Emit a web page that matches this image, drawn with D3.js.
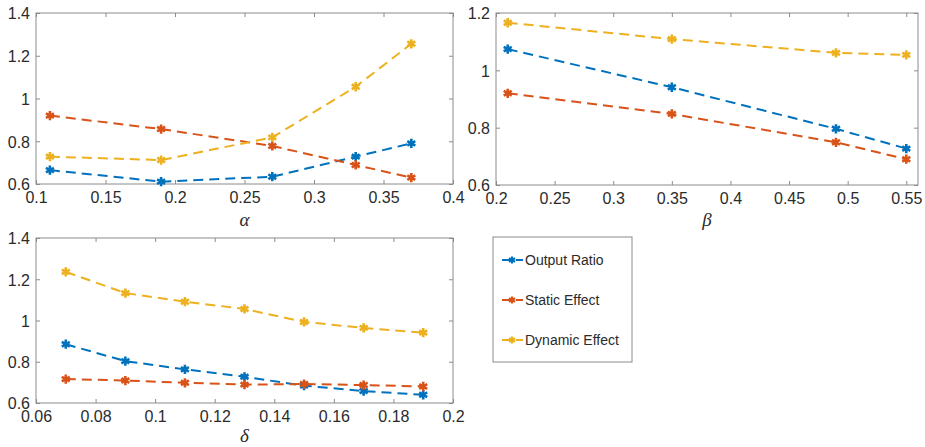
<!DOCTYPE html>
<html>
<head>
<meta charset="utf-8">
<script src="https://cdn.jsdelivr.net/npm/d3@7"></script>
<style>
  body { margin: 0; background: #fff; }
  svg { display: block; }
</style>
</head>
<body>
<div id="wrapper"></div>
<script>
// series names + colours (MATLAB default order)
const seriesNames = ["Output Ratio", "Static Effect", "Dynamic Effect"]
const seriesColors = ["#0072BD", "#D95319", "#EDB120"]

// panel alpha
const alphaX = [0.11, 0.19, 0.27, 0.33, 0.37]
const alphaOutput = [0.665, 0.611, 0.634, 0.728, 0.790]
const alphaStatic = [0.920, 0.857, 0.778, 0.689, 0.630]
const alphaDynamic = [0.728, 0.712, 0.818, 1.055, 1.256]
const alphaXDomain = [0.1, 0.4]
const alphaXTicks = [0.1, 0.15, 0.2, 0.25, 0.3, 0.35, 0.4]
const alphaYTicks = [0.6, 0.8, 1, 1.2, 1.4]

// panel beta
const betaX = [0.21, 0.35, 0.49, 0.55]
const betaOutput = [1.074, 0.941, 0.796, 0.727]
const betaStatic = [0.920, 0.848, 0.749, 0.690]
const betaDynamic = [1.166, 1.109, 1.061, 1.054]
const betaXDomain = [0.2, 0.56]
const betaXTicks = [0.2, 0.25, 0.3, 0.35, 0.4, 0.45, 0.5, 0.55]
const betaYTicks = [0.6, 0.8, 1, 1.2]

// panel delta
const deltaX = [0.07, 0.09, 0.11, 0.13, 0.15, 0.17, 0.19]
const deltaOutput = [0.885, 0.803, 0.763, 0.727, 0.684, 0.658, 0.640]
const deltaStatic = [0.716, 0.709, 0.698, 0.689, 0.692, 0.687, 0.680]
const deltaDynamic = [1.236, 1.133, 1.091, 1.056, 0.993, 0.964, 0.941]
const deltaXDomain = [0.06, 0.2]
const deltaXTicks = [0.06, 0.08, 0.1, 0.12, 0.14, 0.16, 0.18, 0.2]
const deltaYTicks = [0.6, 0.8, 1, 1.2, 1.4]

const W = 925, H = 447
const axisColor = "#8c8c8c"
const textColor = "#2b2b2b"
const fmt = d3.format("~g")
const marker = d3.symbol().type(d3.symbolAsterisk).size(60)

const svg = d3.select("#wrapper")
    .append("svg")
    .attr("width", W)
    .attr("height", H)

function drawPanel(p) {
    const xScale = d3.scaleLinear()
        .domain(p.xDomain)
        .range([p.left, p.right])
    const yScale = d3.scaleLinear()
        .domain(d3.extent(p.yTicks))
        .range([p.bottom, p.top])

    const g = svg.append("g")

    //! axes (MATLAB style: ticks pointing inward on all four sides)
    const bottom = g.append("g")
        .attr("transform", `translate(0,${p.bottom})`)
        .call(d3.axisBottom(xScale).tickValues(p.xTicks).tickFormat(fmt)
            .tickSizeInner(-4).tickSizeOuter(0).tickPadding(8))
    const top = g.append("g")
        .attr("transform", `translate(0,${p.top})`)
        .call(d3.axisTop(xScale).tickValues(p.xTicks).tickFormat("")
            .tickSizeInner(-4).tickSizeOuter(0))
    const left = g.append("g")
        .attr("transform", `translate(${p.left},0)`)
        .call(d3.axisLeft(yScale).tickValues(p.yTicks).tickFormat(fmt)
            .tickSizeInner(-4).tickSizeOuter(0).tickPadding(6))
    const right = g.append("g")
        .attr("transform", `translate(${p.right},0)`)
        .call(d3.axisRight(yScale).tickValues(p.yTicks).tickFormat("")
            .tickSizeInner(-4).tickSizeOuter(0))

    for (const a of [bottom, top, left, right]) {
        a.select(".domain").remove()
        a.selectAll(".tick line").attr("stroke", axisColor)
        a.selectAll("text")
            .attr("fill", textColor)
            .style("font-family", "'Liberation Sans', Arial, sans-serif")
            .style("font-size", "16px")
    }
    left.selectAll("text").attr("dy", "0.36em")

    g.append("rect")
        .attr("x", p.left)
        .attr("y", p.top)
        .attr("width", p.right - p.left)
        .attr("height", p.bottom - p.top)
        .attr("fill", "none")
        .attr("stroke", axisColor)
        .attr("stroke-width", 1)

    // axis label (greek letter)
    g.append("text")
        .attr("x", (p.left + p.right) / 2)
        .attr("y", p.labelY)
        .attr("text-anchor", "middle")
        .attr("fill", textColor)
        .style("font-family", "'Liberation Serif', 'DejaVu Serif', serif")
        .style("font-style", "italic")
        .style("font-size", "19px")
        .text(p.label)

    //! lines + markers
    const line = d3.line()
        .x(d => xScale(d[0]))
        .y(d => yScale(d[1]))

    p.series.forEach((vals, i) => {
        const pts = p.x.map((x, j) => [x, vals[j]])
        g.append("path")
            .datum(pts)
            .attr("d", line)
            .attr("fill", "none")
            .attr("stroke", seriesColors[i])
            .attr("stroke-width", 2)
            .attr("stroke-dasharray", "10,6")
        g.selectAll(".m" + i)
            .data(pts)
            .join("path")
            .attr("class", "m" + i)
            .attr("d", marker)
            .attr("transform", d => `translate(${xScale(d[0])},${yScale(d[1])})`)
            .attr("fill", "none")
            .attr("stroke", seriesColors[i])
            .attr("stroke-width", 2.6)
    })
}

drawPanel({
    left: 36, right: 453, top: 13, bottom: 184,
    x: alphaX, series: [alphaOutput, alphaStatic, alphaDynamic],
    xDomain: alphaXDomain, xTicks: alphaXTicks, yTicks: alphaYTicks,
    label: "α", labelY: 226
})
drawPanel({
    left: 496, right: 918, top: 13, bottom: 185,
    x: betaX, series: [betaOutput, betaStatic, betaDynamic],
    xDomain: betaXDomain, xTicks: betaXTicks, yTicks: betaYTicks,
    label: "β", labelY: 226
})
drawPanel({
    left: 36, right: 453, top: 238, bottom: 403,
    x: deltaX, series: [deltaOutput, deltaStatic, deltaDynamic],
    xDomain: deltaXDomain, xTicks: deltaXTicks, yTicks: deltaYTicks,
    label: "δ", labelY: 442
})

//! legend
const legend = svg.append("g")
legend.append("rect")
    .attr("x", 493)
    .attr("y", 237)
    .attr("width", 139)
    .attr("height", 125)
    .attr("fill", "#fff")
    .attr("stroke", axisColor)
    .attr("stroke-width", 1)

seriesNames.forEach((name, i) => {
    const y = 260 + i * 40
    legend.append("line")
        .attr("x1", 502).attr("x2", 523)
        .attr("y1", y).attr("y2", y)
        .attr("stroke", seriesColors[i])
        .attr("stroke-width", 2)
        .attr("stroke-dasharray", "8,3,0,3,8")
    legend.append("path")
        .attr("d", d3.symbol().type(d3.symbolAsterisk).size(36))
        .attr("transform", `translate(512,${y})`)
        .attr("fill", "none")
        .attr("stroke", seriesColors[i])
        .attr("stroke-width", 2.2)
    legend.append("text")
        .attr("x", 525)
        .attr("y", y)
        .attr("dy", "0.35em")
        .attr("fill", textColor)
        .style("font-family", "'Liberation Sans', Arial, sans-serif")
        .style("font-size", "14px")
        .text(name)
})
</script>
</body>
</html>
